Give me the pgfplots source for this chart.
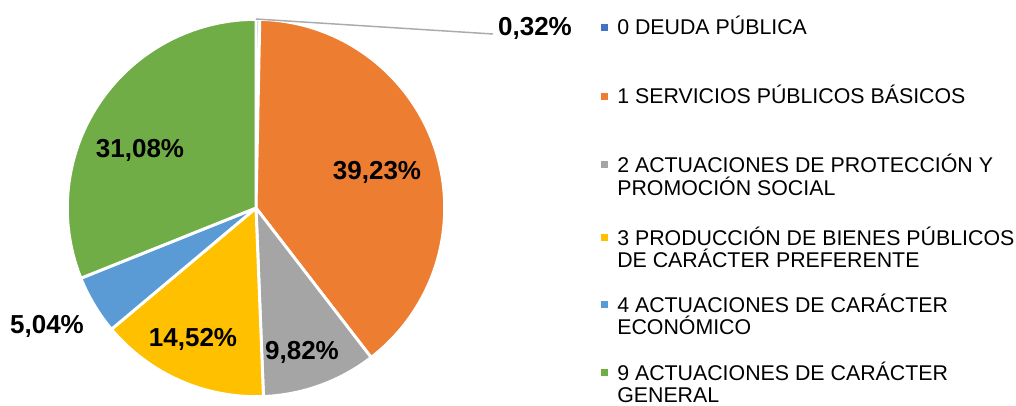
\documentclass[border=0pt]{standalone}
\usepackage{pgfplots}
\pgfplotsset{compat=1.18}
\usepackage{pgfplotstable}
\usepackage{fontspec}
\setmainfont{Liberation Sans}

\definecolor{c0}{HTML}{4472C4}
\definecolor{c1}{HTML}{ED7D31}
\definecolor{c2}{HTML}{A5A5A5}
\definecolor{c3}{HTML}{FFC000}
\definecolor{c4}{HTML}{5B9BD5}
\definecolor{c9}{HTML}{70AD47}

% share of each programme area (%), clockwise from 12 o'clock
\pgfplotstableread[col sep=comma]{
code,value,color
0,0.32,c0
1,39.23,c1
2,9.82,c2
3,14.52,c3
4,5.04,c4
9,31.08,c9
}\piedata

\begin{document}
\begin{tikzpicture}
\begin{axis}[
  x=0.75pt, y=0.75pt,
  xmin=0, xmax=1016, ymin=0, ymax=405,
  hide axis, clip=false,
]
\path (axis cs:0,0) rectangle (axis cs:1016,405);

\pgfplotsextra{
  \xdef\cum{90}
  \foreach \i in {0,...,5} {
    \pgfplotstablegetelem{\i}{value}\of\piedata \let\v\pgfplotsretval
    \pgfplotstablegetelem{\i}{color}\of\piedata \let\c\pgfplotsretval
    \pgfmathsetmacro\aend{\cum-3.6*\v}
    \filldraw[fill=\c, draw=white, line width=2.2pt, line join=round]
      (axis cs:256,197) -- ++(\cum:141.5pt)
      arc[start angle=\cum, end angle=\aend, radius=141.5pt] -- cycle;
    \xdef\cum{\aend}
  }
  \draw[black!33, line width=1.1pt] (axis cs:256,386) -- (axis cs:493,371);
}

% data labels
\begin{scope}[every node/.style={font=\fontsize{19.5}{22}\selectfont\bfseries, anchor=base}]
\node at (axis cs:535,370) {0,32\%};
\node at (axis cs:377,226) {39,23\%};
\node at (axis cs:140,248) {31,08\%};
\node at (axis cs:302,46) {9,82\%};
\node at (axis cs:193,59) {14,52\%};
\node at (axis cs:47,72) {5,04\%};
\end{scope}

% legend markers
\addplot[only marks, mark=square*, mark size=2.1pt, c0] coordinates {(604,378)};
\addplot[only marks, mark=square*, mark size=2.1pt, c1] coordinates {(604,309)};
\addplot[only marks, mark=square*, mark size=2.1pt, c2] coordinates {(604,240.5)};
\addplot[only marks, mark=square*, mark size=2.1pt, c3] coordinates {(604,167.5)};
\addplot[only marks, mark=square*, mark size=2.1pt, c4] coordinates {(604,100.5)};
\addplot[only marks, mark=square*, mark size=2.1pt, c9] coordinates {(604,32.5)};

\begin{scope}[every node/.style={font=\fontsize{16}{19.5}\selectfont, anchor=base west, inner sep=0pt}]
\node at (axis cs:617,370.4) {0 DEUDA PÚBLICA};
\node at (axis cs:617,302) {1 SERVICIOS PÚBLICOS BÁSICOS};
\node at (axis cs:617,233) {2 ACTUACIONES DE PROTECCIÓN Y};
\node at (axis cs:617,210) {PROMOCIÓN SOCIAL};
\node at (axis cs:617,160) {3 PRODUCCIÓN DE BIENES PÚBLICOS};
\node at (axis cs:617,137.5) {DE CARÁCTER PREFERENTE};
\node at (axis cs:617,93) {4 ACTUACIONES DE CARÁCTER};
\node at (axis cs:617,70.5) {ECONÓMICO};
\node at (axis cs:617,25) {9 ACTUACIONES DE CARÁCTER};
\node at (axis cs:617,2.5) {GENERAL};
\end{scope}
\end{axis}
\end{tikzpicture}
\end{document}
